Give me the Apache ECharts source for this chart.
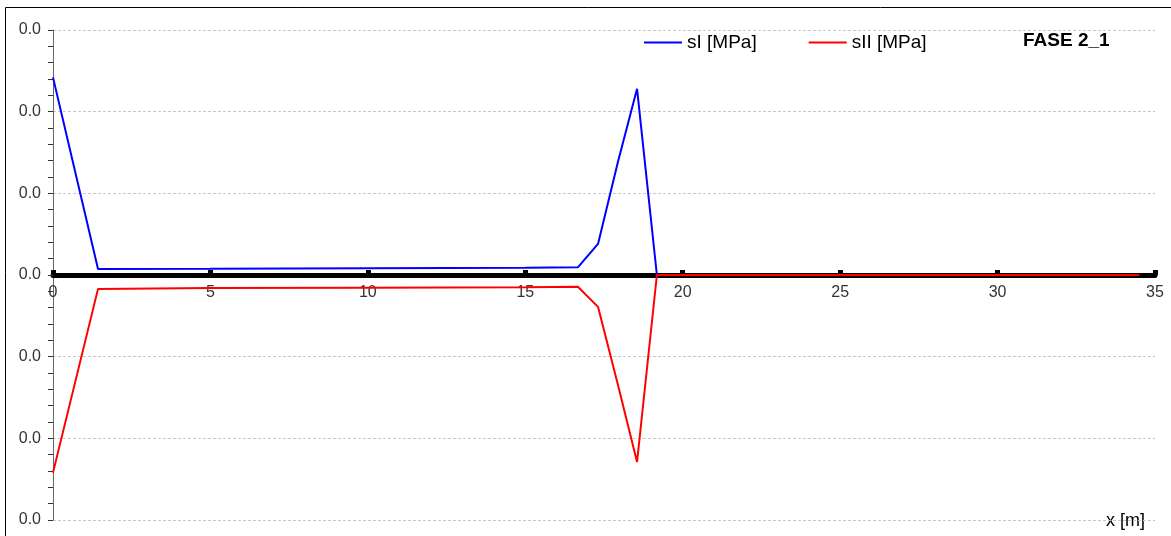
<!DOCTYPE html>
<html>
<head>
<meta charset="utf-8">
<script src="https://cdn.jsdelivr.net/npm/echarts@6/dist/echarts.min.js"></script>
<style>
  html, body { margin: 0; padding: 0; background: #fff; }
  #chart { width: 1171px; height: 536px; }
</style>
</head>
<body>
<div id="chart"></div>
<script>
// x positions [m]
const xValues = [0, 1.43, 5, 10, 15, 16.67, 17.31, 17.94, 18.55, 19.18, 34.5];
// sI [MPa]
const sIValues = [0.0242, 0.00073, 0.00076, 0.00082, 0.0009, 0.00094, 0.0038, 0.0138, 0.0228, 0, 0];
// sII [MPa]
const sIIValues = [-0.0242, -0.0017, -0.0016, -0.00155, -0.0015, -0.00143, -0.0039, -0.0134, -0.0229, 0, 0];
const seriesNames = ['sI [MPa]', 'sII [MPa]'];
const titleText = 'FASE 2_1';
const xAxisName = 'x [m]';

const font = '"Liberation Sans", Arial, sans-serif';
const chart = echarts.init(document.getElementById('chart'), null, { renderer: 'canvas' });

const pair = (xs, ys) => xs.map((x, i) => [x, ys[i]]);

chart.setOption({
  animation: false,
  backgroundColor: '#fff',
  grid: { left: 53, right: 16, top: 30, bottom: 16, containLabel: false, outerBoundsMode: 'none' },
  legend: {
    data: seriesNames,
    left: 639,
    top: 28,
    icon: 'rect',
    itemWidth: 38,
    itemHeight: 2,
    itemGap: 52,
    textStyle: { fontFamily: font, fontSize: 19, color: '#000' }
  },
  graphic: [
    {
      type: 'rect',
      silent: true,
      shape: { x: 5.5, y: 7.5, width: 1200, height: 600 },
      style: { fill: 'none', stroke: '#000', lineWidth: 1 }
    },
    {
      type: 'text',
      left: 1023,
      top: 31,
      style: { text: titleText, font: 'bold 19px ' + font, fill: '#000' }
    },
    {
      type: 'text',
      left: 1106,
      top: 512,
      style: { text: xAxisName, font: '18px ' + font, fill: '#000', backgroundColor: '#fff' }
    }
  ],
  xAxis: {
    type: 'value',
    min: 0,
    max: 35,
    interval: 5,
    position: 'bottom',
    offset: -245,
    axisLine: { onZero: false, lineStyle: { color: '#000', width: 5 } },
    axisTick: { show: true, inside: true, length: 5, lineStyle: { color: '#000', width: 5 } },
    axisLabel: { fontFamily: font, fontSize: 16, color: '#333', margin: 10 },
    splitLine: { show: false }
  },
  yAxis: {
    type: 'value',
    min: -0.03,
    max: 0.03,
    interval: 0.01,
    axisLine: { show: true, lineStyle: { color: '#666', width: 1 } },
    axisTick: { show: true, length: 5, lineStyle: { color: '#333' } },
    minorTick: { show: true, splitNumber: 5, length: 5, lineStyle: { color: '#333' } },
    axisLabel: {
      fontFamily: font, fontSize: 16, color: '#333', margin: 12, padding: [3, 0, 0, 0],
      formatter: v => (Number(v.toFixed(1))).toFixed(1)
    },
    splitLine: { show: true, lineStyle: { color: '#c8c8c8', type: [3, 2], width: 1 } }
  },
  series: [
    {
      name: seriesNames[0],
      type: 'line',
      data: pair(xValues, sIValues),
      showSymbol: false,
      symbol: 'none',
      lineStyle: { color: '#0000ff', width: 2 },
      itemStyle: { color: '#0000ff' },
      z: 3
    },
    {
      name: seriesNames[1],
      type: 'line',
      data: pair(xValues, sIIValues),
      showSymbol: false,
      symbol: 'none',
      lineStyle: { color: '#ff0000', width: 2 },
      itemStyle: { color: '#ff0000' },
      z: 4
    }
  ]
});
</script>
</body>
</html>
